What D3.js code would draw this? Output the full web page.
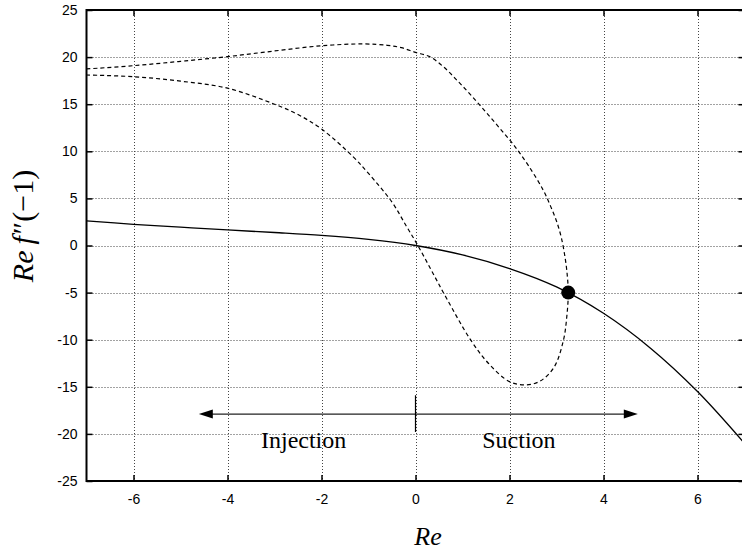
<!DOCTYPE html>
<html>
<head>
<meta charset="utf-8">
<script src="https://cdn.jsdelivr.net/npm/d3@7"></script>
<style>
  html, body { margin: 0; padding: 0; background: #fff; }
  svg { display: block; }
  .tick-label { font-family: "Liberation Sans", Arial, sans-serif; font-size: 14px; fill: #000; }
  .serif { font-family: "Liberation Serif", "Times New Roman", serif; fill: #000; }
</style>
</head>
<body>
<svg id="chart" width="742" height="550"></svg>
<script>
// Axis ticks
const xTicks = [-6, -4, -2, 0, 2, 4, 6];
const yTicks = [-25, -20, -15, -10, -5, 0, 5, 10, 15, 20, 25];

// Solid branch: Re f''(-1) against Re
const solidRe = [-7, -6, -5, -4, -3, -2, -1, 0, 1, 2, 3, 4, 5, 6, 7];
const solidF  = [2.62, 2.25, 1.95, 1.65, 1.38, 1.08, 0.65, 0, -1.0, -2.45, -4.4, -7.2, -10.9, -15.5, -21.0];

// Dashed branch: upper part, through the turning point, then back along the lower part
const dashedRe = [-7, -6, -5, -4, -3, -2, -1.1, -0.6, -0.3, 0, 0.3, 0.6, 0.9, 1.2, 1.5, 1.8, 2.1, 2.4, 2.72, 2.88, 3.0, 3.1, 3.17, 3.22, 3.25,
                  3.22, 3.15, 2.95, 2.65, 2.35, 2.0, 1.55, 1.17, 0.66, 0.35, 0.05, -0.2, -0.5, -1.0, -1.33, -2, -2.5, -3, -4, -5, -6, -7];
const dashedF  = [18.74, 19.09, 19.55, 20.05, 20.65, 21.2, 21.4, 21.25, 21.0, 20.5, 20.05, 18.95, 17.45, 15.85, 14.15, 12.4, 10.6, 8.5, 5.85, 4.1, 2.6, 0.9, -0.9, -2.7, -5.0,
                  -7.5, -10.0, -12.9, -14.4, -14.8, -14.45, -12.5, -10.0, -5.6, -2.75, 0, 2.1, 4.6, 7.65, 9.43, 12.37, 13.9, 15.0, 16.7, 17.45, 17.92, 18.1];

// Turning point where the two branches meet
const markerRe = [3.25];
const markerF  = [-5.0];

// Injection / suction annotation
const arrowRe = [-4.61, 4.73];
const arrowF = -17.9;
const dividerF = [-15.9, -19.8];
const regionNames = ["Injection", "Suction"];
const regionRe = [-2.38, 2.2];
const regionF = -21.5;

const svg = d3.select("#chart");
const plotLeft = 86.5, plotRight = 744.5, plotTop = 10, plotBottom = 481;

const x = d3.scaleLinear().domain([-7, 7]).range([plotLeft, plotRight]);
const y = d3.scaleLinear().domain([-25, 25]).range([plotBottom, plotTop]);

svg.append("defs").append("clipPath").attr("id", "plot-clip")
  .append("rect").attr("x", plotLeft).attr("y", plotTop)
  .attr("width", plotRight - plotLeft).attr("height", plotBottom - plotTop);

// Dotted grid
const grid = svg.append("g").attr("stroke", "#444").attr("stroke-width", 1).attr("stroke-dasharray", "1,2").attr("fill", "none");
grid.selectAll(".gx").data(xTicks).join("line")
  .attr("x1", d => Math.round(x(d)) + 0.5).attr("x2", d => Math.round(x(d)) + 0.5)
  .attr("y1", plotTop).attr("y2", plotBottom);
grid.selectAll(".gy").data(yTicks.filter(d => d > -25 && d < 25)).join("line")
  .attr("y1", d => Math.round(y(d)) + 0.5).attr("y2", d => Math.round(y(d)) + 0.5)
  .attr("x1", plotLeft).attr("x2", plotRight);

// Axes with inward ticks on all four sides
const tickLen = 6;
const axB = svg.append("g").attr("transform", `translate(0,${plotBottom})`)
  .call(d3.axisBottom(x).tickValues(xTicks).tickSize(-tickLen).tickPadding(12).tickFormat(d => String(d)));
const axT = svg.append("g").attr("transform", `translate(0,${plotTop})`)
  .call(d3.axisTop(x).tickValues(xTicks).tickSize(-tickLen).tickFormat(""));
const axL = svg.append("g").attr("transform", `translate(${plotLeft},0)`)
  .call(d3.axisLeft(y).tickValues(yTicks).tickSize(-tickLen).tickPadding(9).tickFormat(d => String(d)));
const axR = svg.append("g").attr("transform", `translate(${plotRight},0)`)
  .call(d3.axisRight(y).tickValues(yTicks).tickSize(-tickLen).tickFormat(""));
[axB, axT, axL, axR].forEach(a => {
  a.select(".domain").remove();
  a.selectAll(".tick line").attr("stroke", "#000").attr("stroke-width", 1.5);
  a.selectAll(".tick text").attr("class", "tick-label").attr("font-size", null).attr("font-family", null);
});
axB.selectAll(".tick text").attr("dy", "0.75em");

// Frame
svg.append("rect").attr("x", plotLeft).attr("y", plotTop)
  .attr("width", plotRight - plotLeft).attr("height", plotBottom - plotTop)
  .attr("fill", "none").attr("stroke", "#000").attr("stroke-width", 2);

const plot = svg.append("g").attr("clip-path", "url(#plot-clip)");

const line = d3.line().x(d => x(d[0])).y(d => y(d[1])).curve(d3.curveCatmullRom.alpha(0.5));

plot.append("path")
  .datum(solidRe.map((r, i) => [r, solidF[i]]))
  .attr("d", line).attr("fill", "none").attr("stroke", "#000").attr("stroke-width", 1.3);

plot.append("path")
  .datum(dashedRe.map((r, i) => [r, dashedF[i]]))
  .attr("d", line).attr("fill", "none").attr("stroke", "#000").attr("stroke-width", 1.2)
  .attr("stroke-dasharray", "4,3");

plot.selectAll(".marker").data(markerRe).join("circle")
  .attr("cx", d => x(d)).attr("cy", (d, i) => y(markerF[i])).attr("r", 7).attr("fill", "#000");

// Double-headed arrow with a divider at Re = 0
const ay = y(arrowF);
const headL = 14, headH = 4.5;
plot.append("line").attr("x1", x(arrowRe[0]) + headL - 1).attr("x2", x(arrowRe[1]) - headL + 1)
  .attr("y1", ay).attr("y2", ay).attr("stroke", "#222").attr("stroke-width", 1.4);
plot.append("path").attr("fill", "#000")
  .attr("d", `M${x(arrowRe[0])},${ay} L${x(arrowRe[0]) + headL},${ay - headH} L${x(arrowRe[0]) + headL},${ay + headH} Z`);
plot.append("path").attr("fill", "#000")
  .attr("d", `M${x(arrowRe[1])},${ay} L${x(arrowRe[1]) - headL},${ay - headH} L${x(arrowRe[1]) - headL},${ay + headH} Z`);
plot.append("line").attr("x1", x(0)).attr("x2", x(0))
  .attr("y1", y(dividerF[0])).attr("y2", y(dividerF[1])).attr("stroke", "#000").attr("stroke-width", 1.2);

plot.selectAll(".region").data(regionNames).join("text")
  .attr("class", "serif").attr("font-size", 24).attr("text-anchor", "middle")
  .attr("x", (d, i) => x(regionRe[i])).attr("y", y(regionF)).text(d => d);

// Axis titles
svg.append("text").attr("class", "serif").attr("font-size", 26).attr("font-style", "italic")
  .attr("text-anchor", "middle").attr("x", 428).attr("y", 545).text("Re");

const yt = svg.append("text").attr("class", "serif").attr("font-size", 30)
  .attr("text-anchor", "middle").attr("transform", "translate(33,226) rotate(-90)");
yt.append("tspan").attr("font-style", "italic").text("Re");
yt.append("tspan").attr("font-style", "italic").attr("dx", 6).text("f\u2033");
yt.append("tspan").attr("dx", 2).text("(\u22121)");
</script>
</body>
</html>
